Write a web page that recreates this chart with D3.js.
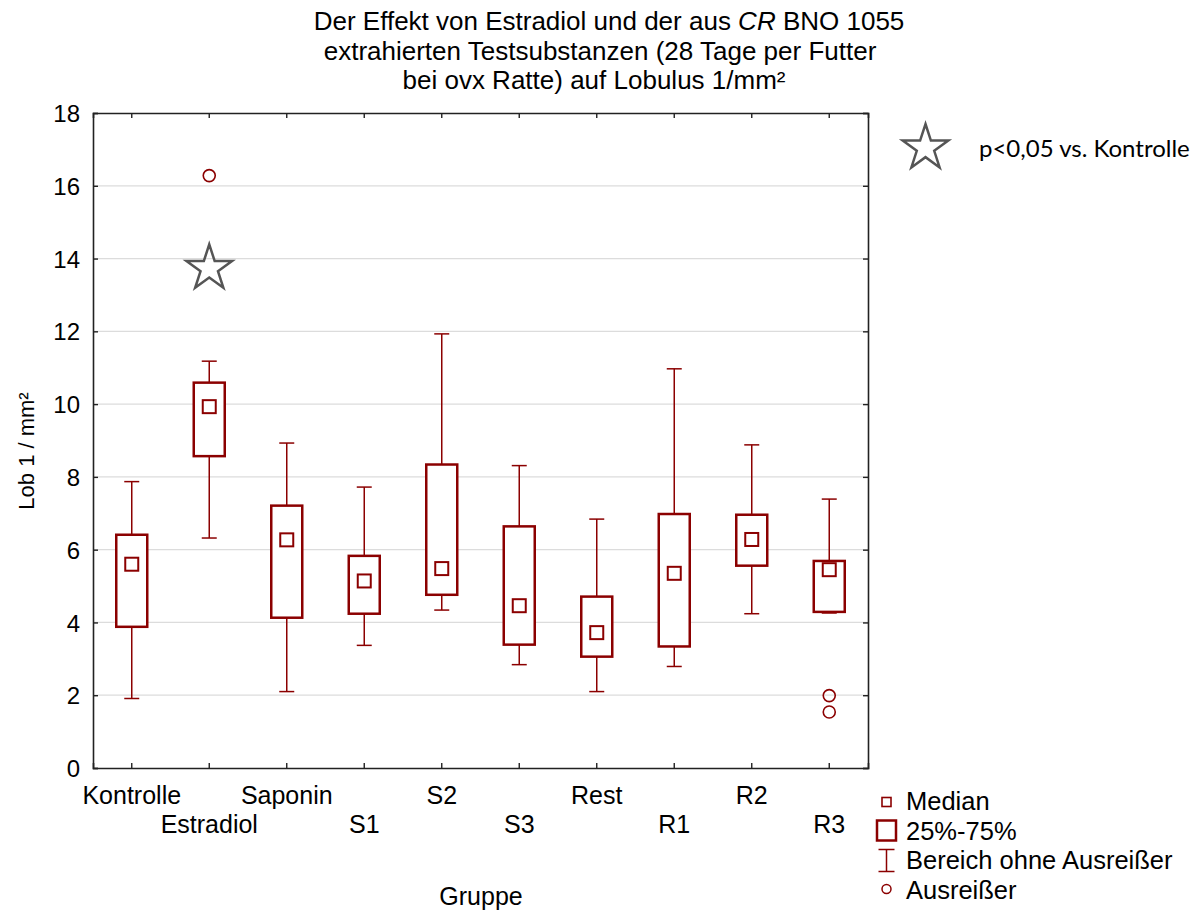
<!DOCTYPE html>
<html>
<head>
<meta charset="utf-8">
<script src="https://cdn.jsdelivr.net/npm/d3@7"></script>
<style>
  body { margin: 0; background: #fff; }
  svg { display: block; font-family: "Liberation Sans", Arial, sans-serif; }
</style>
</head>
<body>
<svg id="chart" width="1201" height="911"></svg>
<script>
// Values (Lob 1/mm²)
var groups = ['Kontrolle', 'Estradiol', 'Saponin', 'S1', 'S2', 'S3', 'Rest', 'R1', 'R2', 'R3']
var whiskerLow  = [1.91, 6.32, 2.10, 3.37, 4.34, 2.84, 2.10, 2.79, 4.24, 4.26]
var q1          = [3.88, 8.57, 4.13, 4.24, 4.76, 3.39, 3.06, 3.34, 5.56, 4.29]
var median      = [5.60, 9.93, 6.27, 5.14, 5.48, 4.46, 3.72, 5.35, 6.28, 5.45]
var q3          = [6.41, 10.59, 7.21, 5.83, 8.34, 6.64, 4.71, 6.98, 6.96, 5.69]
var whiskerHigh = [7.87, 11.18, 8.93, 7.72, 11.93, 8.31, 6.84, 10.97, 8.88, 7.39]
var outlierGroups = ['Estradiol', 'R3', 'R3']
var outlierValues = [16.28, 1.99, 1.54]
var starGroups = ['Estradiol']
var starValues = [13.73]
var yTicks = [0, 2, 4, 6, 8, 10, 12, 14, 16, 18]

var red = '#8b0000'
var svg = d3.select('#chart')

var x = d3.scaleBand().domain(groups).range([93, 868]).padding(0)
var y = d3.scaleLinear().domain([0, 18]).range([768, 113])
var cx = function (g) { return x(g) + x.bandwidth() / 2 }

// Title
var title = svg.append('text')
  .attr('text-anchor', 'middle')
  .style('font-size', '26px')
title.append('tspan').attr('x', 609).attr('y', 30).text('Der Effekt von Estradiol und der aus ')
title.append('tspan').style('font-style', 'italic').text('CR')
title.append('tspan').text(' BNO 1055')
svg.append('text').attr('x', 600).attr('y', 60).attr('text-anchor', 'middle')
  .style('font-size', '26px').text('extrahierten Testsubstanzen (28 Tage per Futter')
svg.append('text').attr('x', 594).attr('y', 89).attr('text-anchor', 'middle')
  .style('font-size', '26px').text('bei ovx Ratte) auf Lobulus 1/mm²')

// Gridlines
svg.append('g').selectAll('line')
  .data(yTicks.filter(function (d) { return d > 0 && d < 18 }))
  .enter().append('line')
  .attr('x1', 93).attr('x2', 868)
  .attr('y1', function (d) { return y(d) }).attr('y2', function (d) { return y(d) })
  .attr('stroke', '#dcdcdc').attr('stroke-width', 1.2)

// Axes, ticks pointing inward
var axisL = svg.append('g').attr('transform', 'translate(93,0)')
  .call(d3.axisLeft(y).tickValues(yTicks).tickSize(-5).tickPadding(13))
var axisR = svg.append('g').attr('transform', 'translate(868,0)')
  .call(d3.axisRight(y).tickValues(yTicks).tickSize(-5).tickFormat(''))
var axisT = svg.append('g').attr('transform', 'translate(0,113)')
  .call(d3.axisTop(x).tickSize(-5).tickFormat(''))
var axisB = svg.append('g').attr('transform', 'translate(0,768)')
  .call(d3.axisBottom(x).tickSize(-5))

;[axisL, axisR, axisT, axisB].forEach(function (a) {
  a.select('.domain').attr('stroke', '#222').attr('stroke-width', 1.6)
  a.selectAll('.tick line').attr('stroke', '#222').attr('stroke-width', 1.4)
  a.selectAll('text').attr('fill', '#000').style('font-size', '25px')
    .style('font-family', '"Liberation Sans", Arial, sans-serif')
})
axisL.selectAll('.tick text').attr('dy', '0.36em').style('font-size', '24px')
axisB.selectAll('.tick text')
  .attr('dy', 0)
  .attr('y', function (d, i) { return i % 2 ? 65 : 36 })

// Axis titles
svg.append('text')
  .attr('transform', 'translate(34,451) rotate(-90)')
  .attr('text-anchor', 'middle')
  .style('font-size', '22px')
  .text('Lob 1 / mm²')
svg.append('text').attr('x', 481).attr('y', 905).attr('text-anchor', 'middle')
  .style('font-size', '25px').text('Gruppe')

// Box plots
var boxes = svg.append('g').selectAll('g')
  .data(groups)
  .enter().append('g')

var bw = 31, cap = 15, mw = 13

boxes.append('line')
  .attr('x1', cx).attr('x2', cx)
  .attr('y1', function (d, i) { return y(q3[i]) })
  .attr('y2', function (d, i) { return y(whiskerHigh[i]) })
  .attr('stroke', red).attr('stroke-width', 1.5)
boxes.append('line')
  .attr('x1', cx).attr('x2', cx)
  .attr('y1', function (d, i) { return y(q1[i]) })
  .attr('y2', function (d, i) { return y(whiskerLow[i]) })
  .attr('stroke', red).attr('stroke-width', 1.5)
boxes.append('line')
  .attr('x1', function (d) { return cx(d) - cap / 2 }).attr('x2', function (d) { return cx(d) + cap / 2 })
  .attr('y1', function (d, i) { return y(whiskerHigh[i]) })
  .attr('y2', function (d, i) { return y(whiskerHigh[i]) })
  .attr('stroke', red).attr('stroke-width', 1.5)
boxes.append('line')
  .attr('x1', function (d) { return cx(d) - cap / 2 }).attr('x2', function (d) { return cx(d) + cap / 2 })
  .attr('y1', function (d, i) { return y(whiskerLow[i]) })
  .attr('y2', function (d, i) { return y(whiskerLow[i]) })
  .attr('stroke', red).attr('stroke-width', 1.5)
boxes.append('rect')
  .attr('x', function (d) { return cx(d) - bw / 2 })
  .attr('y', function (d, i) { return y(q3[i]) })
  .attr('width', bw)
  .attr('height', function (d, i) { return y(q1[i]) - y(q3[i]) })
  .attr('fill', '#fff').attr('stroke', red).attr('stroke-width', 2.5)
boxes.append('rect')
  .attr('x', function (d) { return cx(d) - mw / 2 })
  .attr('y', function (d, i) { return y(median[i]) - mw / 2 })
  .attr('width', mw).attr('height', mw)
  .attr('fill', '#fff').attr('stroke', red).attr('stroke-width', 2)

// Outliers
svg.append('g').selectAll('circle')
  .data(outlierValues)
  .enter().append('circle')
  .attr('cx', function (d, i) { return cx(outlierGroups[i]) })
  .attr('cy', function (d) { return y(d) })
  .attr('r', 6)
  .attr('fill', 'none').attr('stroke', red).attr('stroke-width', 1.6)

// Star path
function starPath(cxp, cyp, R) {
  var pts = d3.range(10).map(function (k) {
    var r = k % 2 ? R * 0.382 : R
    var a = -Math.PI / 2 + k * Math.PI / 5
    return [cxp + r * Math.cos(a), cyp + r * Math.sin(a)]
  })
  return 'M' + pts.join('L') + 'Z'
}

svg.append('g').selectAll('path')
  .data(starValues)
  .enter().append('path')
  .attr('d', function (d, i) { return starPath(cx(starGroups[i]), y(d), 24) })
  .attr('fill', 'none').attr('stroke', '#555').attr('stroke-width', 2.5)
  .attr('stroke-linejoin', 'miter')

// Legend: significance
svg.append('path').attr('d', starPath(925.5, 148, 24))
  .attr('fill', 'none').attr('stroke', '#555').attr('stroke-width', 2.5)
svg.append('text').attr('x', 979).attr('y', 157)
  .style('font-family', 'Lato, "Open Sans", sans-serif').style('font-size', '24px')
  .text('p<0,05 vs. Kontrolle')

// Legend: box plot elements
var lg = svg.append('g')
lg.append('rect').attr('x', 882).attr('y', 797.5).attr('width', 9).attr('height', 9)
  .attr('fill', 'none').attr('stroke', red).attr('stroke-width', 1.6)
lg.append('rect').attr('x', 877).attr('y', 820.5).attr('width', 19).attr('height', 20)
  .attr('fill', 'none').attr('stroke', red).attr('stroke-width', 2.5)
lg.append('line').attr('x1', 886.5).attr('x2', 886.5).attr('y1', 849.5).attr('y2', 871.5)
  .attr('stroke', red).attr('stroke-width', 1.5)
lg.append('line').attr('x1', 878.5).attr('x2', 894.5).attr('y1', 849.5).attr('y2', 849.5)
  .attr('stroke', red).attr('stroke-width', 1.5)
lg.append('line').attr('x1', 878.5).attr('x2', 894.5).attr('y1', 871.5).attr('y2', 871.5)
  .attr('stroke', red).attr('stroke-width', 1.5)
lg.append('circle').attr('cx', 886.5).attr('cy', 889).attr('r', 4.5)
  .attr('fill', 'none').attr('stroke', red).attr('stroke-width', 1.5)

var legendLabels = ['Median', '25%-75%', 'Bereich ohne Ausreißer', 'Ausreißer']
lg.selectAll('text.lab')
  .data(legendLabels)
  .enter().append('text')
  .attr('class', 'lab')
  .attr('x', 906)
  .attr('y', function (d, i) { return 810 + i * 29.5 })
  .style('font-size', '25.5px')
  .text(function (d) { return d })
</script>
</body>
</html>
